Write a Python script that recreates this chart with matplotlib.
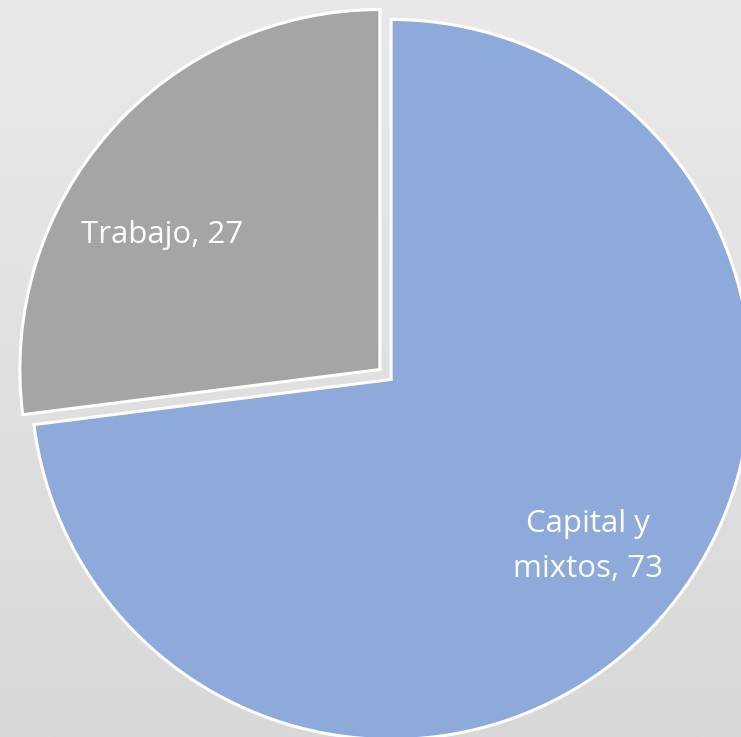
import numpy as np
import matplotlib.pyplot as plt

# Pie data
labels = ["Capital y\nmixtos", "Trabajo"]
values = [73, 27]
colors = ["#8EAADB", "#A5A5A5"]
label_text = [f"{l}, {v}" for l, v in zip(labels, values)]

W, H = 741, 737
fig = plt.figure(figsize=(W / 100, H / 100), dpi=100)
ax = fig.add_axes([0, 0, 1, 1])

# background gradient, lighter at top
grad = np.linspace(0xE9, 0xD8, 256).reshape(-1, 1) / 255.0
ax.imshow(np.dstack([grad] * 3), extent=[0, W, 0, H], aspect="auto", zorder=0)

cx, cy, r = 385.5, 362.5, 360
# explode is in data units here (pixels)
wedges, _ = ax.pie(values, colors=colors, startangle=90, counterclock=False,
                   center=(cx, cy), radius=r, explode=[7.5, 7.5],
                   wedgeprops=dict(edgecolor="white", linewidth=2.2),
                   frame=True)
ax.set_xlim(0, W)
ax.set_ylim(0, H)
ax.set_aspect("auto")
ax.axis("off")

font = ["Open Sans", "DejaVu Sans"]
kw = dict(color="white", fontsize=22.5, ha="center", va="baseline", family=font)
# label lines placed by their baselines
for line, yb in zip(label_text[0].split("\n"), [532, 577]):
    ax.text(588, H - yb, line, **kw)
ax.text(162, H - 243, label_text[1], **kw)

fig.savefig("out.png", dpi=100)
